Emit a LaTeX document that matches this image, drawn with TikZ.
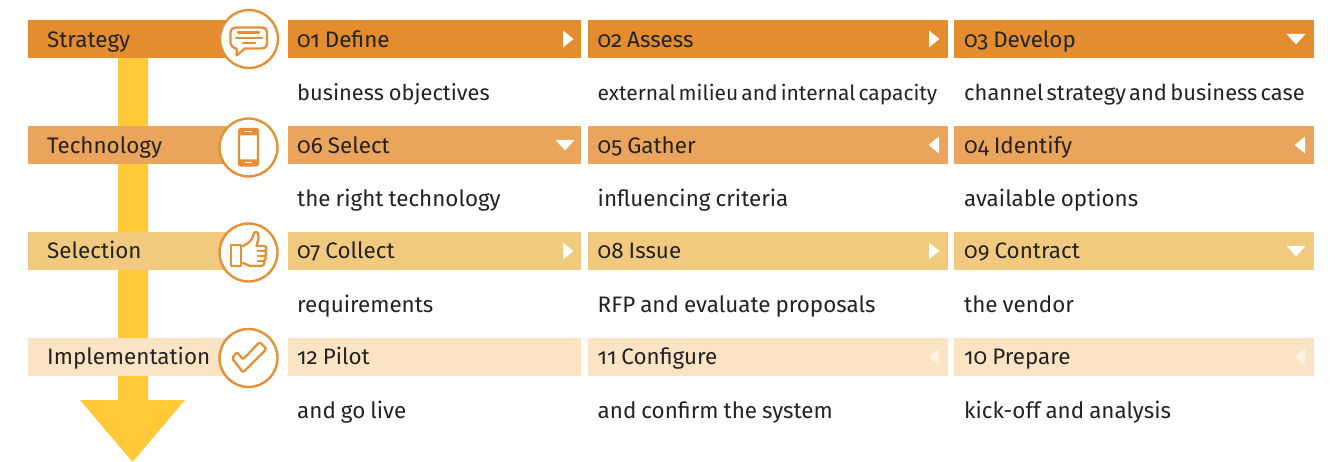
\documentclass[tikz,border=0pt]{standalone}
\usepackage{fontspec}
\setmainfont[Numbers=OldStyle,WordSpace=0.85]{Fira Sans}
\newfontfamily\tightfam[Numbers=OldStyle,WordSpace=0.55]{Fira Sans}
\definecolor{rowa}{HTML}{E38D2E}
\definecolor{rowb}{HTML}{EAA45B}
\definecolor{rowc}{HTML}{F2CA7F}
\definecolor{rowd}{HTML}{FAE4C4}
\definecolor{shaft}{HTML}{FFC937}
\definecolor{ring}{HTML}{E39038}
\definecolor{ink}{HTML}{232323}
\tikzset{
 x=1pt,y=-1pt,
 barbox/.style={anchor=north west,minimum height=38pt,inner sep=0pt,outer sep=0pt},
 lefttext/.style={anchor=west,text=ink,inner sep=0pt,font=\fontsize{22.4}{24}\selectfont,text height=21pt,text depth=4pt},
 subtext/.style={lefttext},
 ringnode/.style={circle,draw=ring,fill=white,line width=2.4pt,minimum size=58pt,inner sep=0pt},
 marker/.style={fill=white,draw=none},
 iconline/.style={draw=ring,line width=2.3pt,line join=round,line cap=round,fill=none}
}
\newcommand{\cellbar}[5]{% name, x, y, width, colour
 \node[barbox,fill=#5,minimum width=#4pt] (#1) at (#2,#3) {};}
\newcommand{\mright}[2]{\fill[marker] (#1-5,#2-8.5)--(#1+5.5,#2)--(#1-5,#2+8.5)--cycle;}
\newcommand{\mleft}[2]{\fill[marker] (#1+5,#2-8.5)--(#1-5.5,#2)--(#1+5,#2+8.5)--cycle;}
\newcommand{\mdown}[2]{\fill[marker] (#1-9.5,#2-5)--(#1+9.5,#2-5)--(#1,#2+5.5)--cycle;}
\begin{document}
\begin{tikzpicture}
\useasboundingbox (0,0) rectangle (1335,462);
% big arrow
\fill[shaft] (118,58)--(148,58)--(148,400)--(185,400)--(132.5,462)--(80,400)--(118,400)--cycle;
% left bars
\cellbar{la}{28}{20}{220}{rowa}
\cellbar{lb}{28}{126}{220}{rowb}
\cellbar{lc}{28}{232}{220}{rowc}
\cellbar{ld}{28}{338}{220}{rowd}
\node[lefttext] (lta) at (47,39) {Strategy};
\node[lefttext] (ltb) at (47,145) {Technology};
\node[lefttext] (ltc) at (47,250) {Selection};
\node[lefttext] (ltd) at (47,356) {Implementation};
% rings
\node[ringnode] (ra) at (249,39) {};
\node[ringnode] (rb) at (248.5,147.5) {};
\node[ringnode] (rc) at (248.5,252.5) {};
\node[ringnode] (rd) at (248.5,358) {};
% icon speech
\draw[iconline] (236,27.5)--(261,27.5) .. controls (265,27.5) and (267,29) .. (267,32)--(267,43) .. controls (267,47) and (265,48.5) .. (261,48.5)--(245,48.5)--(236.5,55.5)--(237,49) .. controls (232,47.5) and (230.5,45) .. (230.5,43)--(230.5,32) .. controls (230.5,29) and (233,27.5) .. (236,27.5);
\draw[iconline] (238,32.5)--(259,32.5) (236,38)--(262,38) (243,43)--(255,43);
% icon phone
\draw[iconline,rounded corners=2pt] (239,129)rectangle(258,165.5);
\fill[ring] (239,129)rectangle(258,135.5) (239,159.5)rectangle(258,165.5);
\draw[white,line width=1pt] (245,132)--(252,132) (245,162.6)--(252,162.6);
% icon thumb
\draw[iconline] (231,245)rectangle(241,266);
\draw[iconline] (243,246)..controls (249,243) and (253,240) ..(254,233)..controls (256,231) and (259,232) ..(258.5,237)..controls (258.5,241) and (257,243) ..(256.5,246)--(264,246)..controls (267,246) and (267,251) ..(264,251)..controls (267,251) and (267,256) ..(264,256)..controls (266.5,256) and (266.5,261) ..(263,261)..controls (265,261) and (265,266) ..(261,266)--(250,266)..controls (247,266) and (246,263) ..(243,263);
\draw[ring,line width=1.6pt] (257,251)--(264,251) (257,256)--(264,256) (257,261)--(263,261);
% icon check
\draw[iconline,rounded corners=2pt] (232,358)--(237,352)--(243,359.5)--(259.5,342)--(266.5,349)--(243,372.5)--cycle;
% cells
\cellbar{ca}{288}{20}{293}{rowa}
\cellbar{cb}{588}{20}{360}{rowa}
\cellbar{cc}{954}{20}{360}{rowa}
\cellbar{cd}{288}{126}{293}{rowb}
\cellbar{ce}{588}{126}{360}{rowb}
\cellbar{cf}{954}{126}{360}{rowb}
\cellbar{cg}{288}{232}{293}{rowc}
\cellbar{ch}{588}{232}{360}{rowc}
\cellbar{ci}{954}{232}{360}{rowc}
\cellbar{cj}{288}{338}{293}{rowd}
\cellbar{ck}{588}{338}{360}{rowd}
\cellbar{cl}{954}{338}{360}{rowd}
% cell titles
\node[lefttext] (ta) at (297,39) {01 Define};
\node[lefttext] (tb) at (597.5,39) {02 Assess};
\node[lefttext] (tc) at (964,39) {03 Develop};
\node[lefttext] (td) at (297,145) {06 Select};
\node[lefttext] (te) at (597.5,145) {05 Gather};
\node[lefttext] (tf) at (964,145) {04 Identify};
\node[lefttext] (tg) at (297,250) {07 Collect};
\node[lefttext] (th) at (597.5,250) {08 Issue};
\node[lefttext] (ti) at (964,250) {09 Contract};
\node[lefttext] (tj) at (297,356) {12 Pilot};
\node[lefttext] (tk) at (597.5,356) {11 Configure};
\node[lefttext] (tl) at (964,356) {10 Prepare};
% markers
\mright{568}{39}\mright{934}{39}\mdown{1296}{39}
\mdown{565}{145}\mleft{934}{145}\mleft{1300}{145}
\mright{568}{251}\mright{934}{251}\mdown{1296}{251}
\begin{scope}[opacity=.55]
\mleft{934}{357}\mleft{1300}{357}
\end{scope}
% descriptions
\node[subtext,font=\fontsize{21.8}{24}\selectfont] (sa) at (297,92.5) {business objectives};
\node[subtext,font=\tightfam\fontsize{21}{24}\selectfont] (sb) at (597.5,92.5) {external milieu and internal capacity};
\node[subtext,font=\tightfam\fontsize{21.9}{24}\selectfont] (sc) at (964,92.5) {channel strategy and business case};
\node[subtext] (sd) at (297,198.5) {the right technology};
\node[subtext] (se) at (597.5,198.5) {influencing criteria};
\node[subtext] (sf) at (964,198.5) {available options};
\node[subtext] (sg) at (297,303.5) {requirements};
\node[subtext] (sh) at (597.5,303.5) {RFP and evaluate proposals};
\node[subtext] (si) at (964,303.5) {the vendor};
\node[subtext] (sj) at (297,409.5) {and go live};
\node[subtext] (sk) at (597.5,409.5) {and confirm the system};
\node[subtext] (sl) at (964,409.5) {kick-off and analysis};
\end{tikzpicture}
\end{document}
